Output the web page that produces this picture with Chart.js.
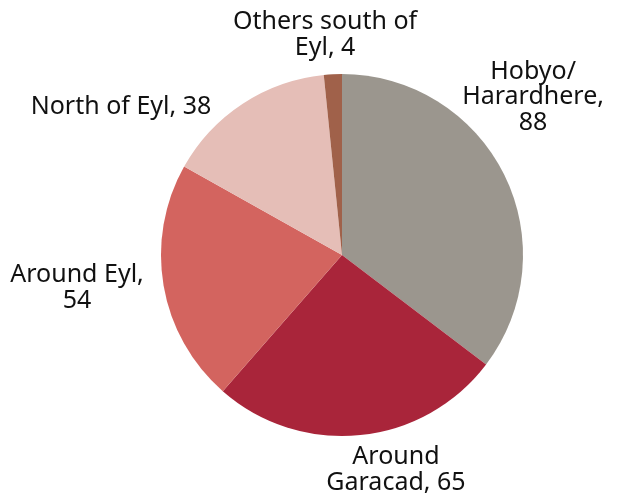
<!DOCTYPE html>
<html>
<head>
<meta charset="utf-8">
<script src="https://cdn.jsdelivr.net/npm/chart.js@4/dist/chart.umd.min.js"></script>
<style>
  html, body { margin: 0; padding: 0; background: #fff; }
  #wrap { width: 620px; height: 494px; }
</style>
</head>
<body>
<div id="wrap"><canvas id="pie_areas"></canvas></div>
<script>
// areas, clockwise from 12 o'clock
const areas = ['Hobyo/\nHarardhere,\n', 'Around\nGaracad', 'Around Eyl,\n', 'North of Eyl', 'Others south of\nEyl'];
const counts = [88, 65, 54, 38, 4];
const colours = ['#9B968E', '#A9253A', '#D3645F', '#E5BEB7', '#A0614A'];

// where each label sits: turn (deg) off the slice middle, distance in radii
const labelTurn = [-13.2, -8.3, 2.7, -22.9, -1.5];
const labelDist = [1.37, 1.225, 1.475, 1.47, 1.22];

function labelLines(i) {
    const parts = areas[i].split('\n');
    if (areas[i].endsWith(',\n')) {
        parts[parts.length - 1] = String(counts[i]);
    } else {
        parts[parts.length - 1] += ', ' + counts[i];
    }
    return parts;
}

const outsideLabels = {
    id: 'outsideLabels',
    afterDatasetsDraw(chart) {
        const c = chart.ctx;
        const meta = chart.getDatasetMeta(0);
        c.save();
        c.font = '25px "Noto Sans"';
        c.fillStyle = '#111';
        c.textAlign = 'center';
        c.textBaseline = 'middle';
        meta.data.forEach((arc, i) => {
            const p = arc.getProps(['x', 'y', 'startAngle', 'endAngle', 'outerRadius'], true);
            const mid = (p.startAngle + p.endAngle) / 2 + labelTurn[i] * Math.PI / 180;
            const d = p.outerRadius * labelDist[i];
            const cx = p.x + Math.cos(mid) * d;
            const cy = p.y + Math.sin(mid) * d;
            const lines = labelLines(i);
            const lh = 25.5;
            lines.forEach((t, k) => {
                c.fillText(t, cx, cy + (k - (lines.length - 1) / 2) * lh);
            });
        });
        c.restore();
    }
};

const ctx = document.getElementById('pie_areas');
new Chart(ctx, {
    type: 'pie',
    data: {
        labels: areas.map(a => a.replace(/\n/g, ' ').replace(/,\s*$/, '')),
        datasets: [{
            data: counts,
            backgroundColor: colours,
            borderWidth: 0
        }]
    },
    options: {
        responsive: true,
        maintainAspectRatio: false,
        animation: false,
        layout: { padding: { top: 74, bottom: 58, left: 161, right: 97 } },
        plugins: {
            legend: { display: false },
            tooltip: { enabled: false }
        }
    },
    plugins: [outsideLabels]
});
</script>
</body>
</html>
